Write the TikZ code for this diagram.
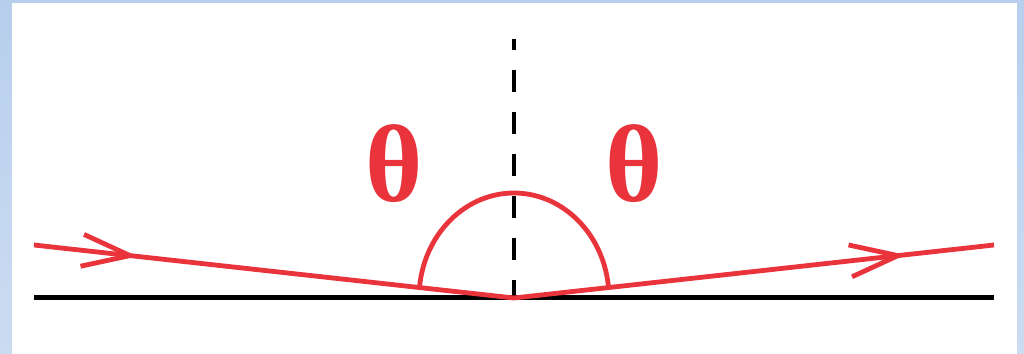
\documentclass[tikz,border=0pt]{standalone}
\usepackage{fontspec}
\setmainfont{Liberation Serif}
\usetikzlibrary{decorations.markings,calc}
\definecolor{rayred}{RGB}{233,52,60}
\definecolor{frameblueTop}{RGB}{183,207,237}
\definecolor{frameblueBot}{RGB}{203,220,241}
\tikzset{
  ray/.style={draw=rayred, line width=4.8pt},
  surface/.style={draw=black, line width=5pt},
  normalline/.style={draw=black, line width=4.5pt, dash pattern=on 22pt off 20pt, dash phase=11pt},
  anglelabel/.style={text=rayred, font=\bfseries\fontsize{110}{110}\selectfont, inner sep=0pt},
  chevron at/.style={decoration={markings, mark=at position #1 with {
      \draw[rayred, line width=4.8pt, line join=miter, line cap=butt] (-48pt,16pt) -- (0pt,0pt) -- (-48pt,-16pt);}},
    postaction={decorate}}
}
\begin{document}
\begin{tikzpicture}[x=1pt,y=1pt]
  \useasboundingbox (0,0) rectangle (1024,353);
  \shade[top color=frameblueTop, bottom color=frameblueBot] (0,0) rectangle (1024,353);
  \fill[white] (12,-2) rectangle (1017,350);
  % points
  \coordinate (O) at (514,55);
  \coordinate (SL) at (34,55);
  \coordinate (SR) at (994,55);
  \coordinate (NT) at (514,314);
  \coordinate (A) at (34,108);
  \coordinate (B) at (994,108);
  % surface and normal
  \draw[surface] (SL) -- (SR);
  \draw[normalline] (NT) -- (O);
  % rays
  \draw[ray, chevron at=0.2] (A) -- (O);
  \draw[ray, chevron at=0.8] (O) -- (B);
  % angle arc
  \draw[ray] ($(O)+(174.3:95 and 105)$) arc[start angle=174.3, end angle=5.7, x radius=95, y radius=105];
  % labels
  \node[anglelabel] (t1) at (394,189) {θ};
  \node[anglelabel] (t2) at (634,189) {θ};
\end{tikzpicture}
\end{document}
